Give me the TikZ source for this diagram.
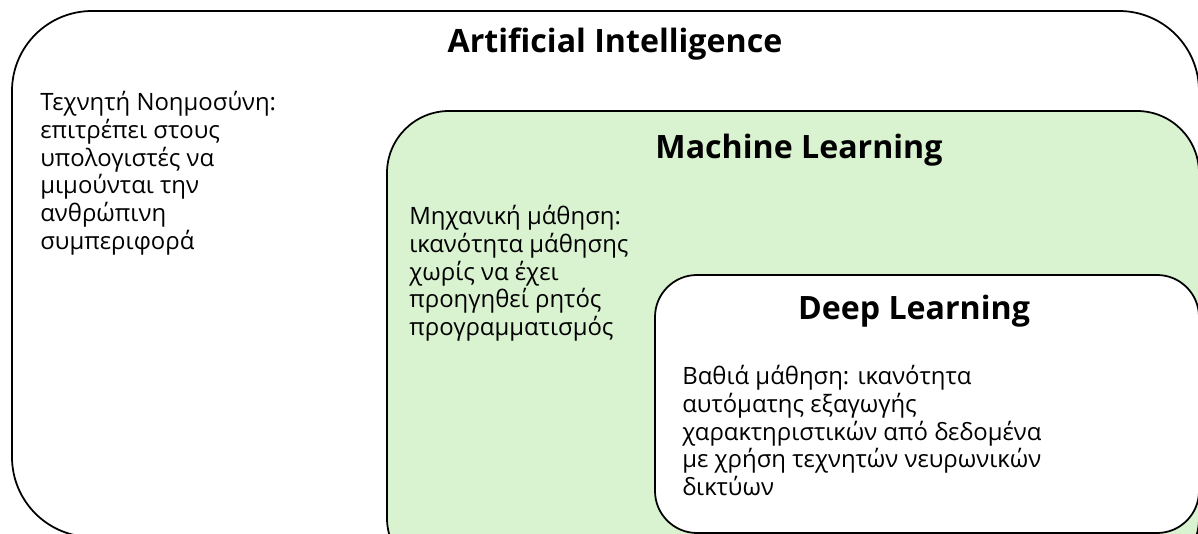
\documentclass[tikz,border=0pt]{standalone}
\usepackage{fontspec}
\setmainfont{Open Sans}
\usepackage{xcolor}
\usetikzlibrary{positioning}
\definecolor{mlgreen}{HTML}{D9F2D0}

\begin{document}
\begin{tikzpicture}[x=0.02cm, y=-0.02cm,
  title/.style={font=\fontsize{18.3}{20}\selectfont\bfseries, inner sep=0pt},
  body/.style={font=\fontsize{13.6}{15.8}\selectfont, align=left, anchor=north west, inner sep=0pt}]
\useasboundingbox (0,0) rectangle (1198,534);
\clip (0,0) rectangle (1198,534);

% Boxes
\draw[line width=1pt, rounded corners=1.6cm] (12,11) rectangle (1199,537);
\draw[line width=1pt, fill=mlgreen, rounded corners=1.24cm] (387,111) rectangle (1199,580);
\draw[line width=1pt, fill=white, rounded corners=0.84cm] (655,275) rectangle (1199,533);

% Titles
\node[title] (ai) at (615,44) {Artificial Intelligence};
\node[title] (ml) at (799,150) {Machine Learning};
\node[title] (dl) at (914,311) {Deep Learning};

% Texts
\node[body] (aitext) at (40,91) {Τεχνητή Νοημοσύνη:\\επιτρέπει στους\\υπολογιστές να\\μιμούνται την\\ανθρώπινη\\συμπεριφορά};
\node[body] (mltext) at (409,205) {Μηχανική μάθηση:\\ικανότητα μάθησης\\χωρίς να έχει\\προηγηθεί ρητός\\προγραμματισμός};
\node[body] (dltext) at (682,365) {Βαθιά μάθηση: ικανότητα\\αυτόματης εξαγωγής\\χαρακτηριστικών από δεδομένα\\με χρήση τεχνητών νευρωνικών\\δικτύων};

\end{tikzpicture}
\end{document}
